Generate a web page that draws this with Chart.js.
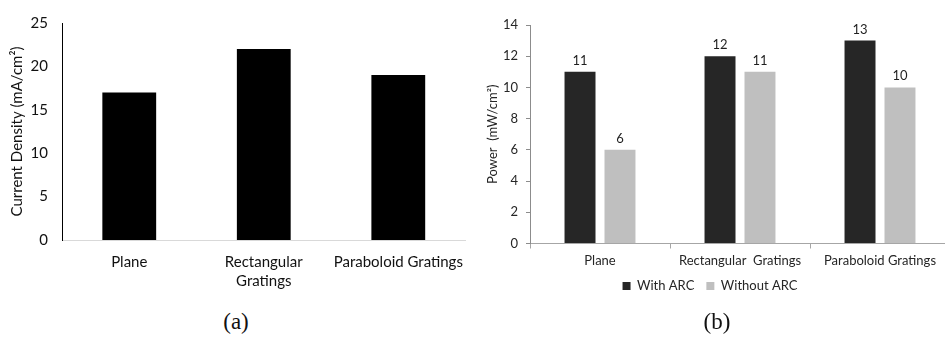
<!DOCTYPE html>
<html>
<head>
<meta charset="utf-8">
<script src="https://cdn.jsdelivr.net/npm/chart.js@4"></script>
<style>
  html, body { margin: 0; padding: 0; background: #fff; overflow: hidden; width: 945px; height: 337px; position: relative; }
  #wrapA { position: absolute; left: 0; top: 0; width: 475px; height: 300px; }
  #wrapB { position: absolute; left: 470px; top: 0; width: 511px; height: 310px; }
  .cap { position: absolute; top: 309px; font-family: "Liberation Serif", "Times New Roman", serif; font-size: 23px; color: #111; transform: translateX(-50%); white-space: nowrap; }
</style>
</head>
<body>
<div id="wrapA"><canvas id="chartA" width="475" height="300"></canvas></div>
<div id="wrapB"><canvas id="chartB" width="511" height="310"></canvas></div>
<div class="cap" style="left:236px">(a)</div>
<div class="cap" style="left:717px">(b)</div>

<script>
// (a) current density per surface type
const categoriesA = ['Plane', ['Rectangular', 'Gratings'], 'Paraboloid Gratings'];
const currentDensity = [17, 22, 19];
const yTicksA = [0, 5, 10, 15, 20, 25];

// (b) output power with / without anti-reflection coating
const categoriesB = ['Plane', 'Rectangular  Gratings', 'Paraboloid Gratings'];
const withARC = [11, 12, 13];
const withoutARC = [6, 11, 10];
const yTicksB = [0, 2, 4, 6, 8, 10, 12, 14];

const FONT = 'Lato, "Liberation Sans", sans-serif';

// writes each bar's value just above it
const valueLabels = {
  id: 'valueLabels',
  afterDatasetsDraw(chart) {
    const ctx = chart.ctx;
    ctx.save();
    ctx.font = '13px ' + FONT;
    ctx.fillStyle = '#1f1f1f';
    ctx.textAlign = 'center';
    ctx.textBaseline = 'alphabetic';
    chart.data.datasets.forEach((ds, i) => {
      chart.getDatasetMeta(i).data.forEach((bar, j) => {
        ctx.fillText(String(ds.data[j]), bar.x, bar.y - 7);
      });
    });
    ctx.restore();
  }
};

function draw() {
  new Chart(document.getElementById('chartA'), {
    type: 'bar',
    data: {
      labels: categoriesA,
      datasets: [{
        data: currentDensity,
        backgroundColor: '#000000',
        categoryPercentage: 1,
        barPercentage: 0.4
      }]
    },
    options: {
      responsive: false,
      animation: false,
      devicePixelRatio: 1,
      layout: { padding: { top: 16, right: 0.5, left: 0, bottom: 0 } },
      plugins: { legend: { display: false }, tooltip: { enabled: false } },
      scales: {
        x: {
          grid: { display: false, drawTicks: false },
          border: { color: '#d9d9d9', width: 1 },
          ticks: { color: '#111111', font: { family: FONT, size: 15, lineHeight: 1.3 }, padding: 12, maxRotation: 0, autoSkip: false },
          afterFit: s => { s.height = 60; }
        },
        y: {
          min: 0, max: 25,
          afterBuildTicks: s => { s.ticks = yTicksA.map(v => ({ value: v })); },
          grid: { display: false, drawTicks: false },
          border: { color: '#000000', width: 1 },
          ticks: { color: '#111111', font: { family: FONT, size: 15 }, padding: 14 },
          title: { display: true, text: 'Current Density (mA/cm²)', color: '#111111', font: { family: FONT, size: 15 }, padding: { top: 8, bottom: 0 } },
          afterFit: s => { s.width = 62; }
        }
      }
    }
  });

  new Chart(document.getElementById('chartB'), {
    type: 'bar',
    data: {
      labels: categoriesB,
      datasets: [
        { label: 'With ARC', data: withARC, backgroundColor: '#262626', categoryPercentage: 0.571, barPercentage: 0.775 },
        { label: 'Without ARC', data: withoutARC, backgroundColor: '#bfbfbf', categoryPercentage: 0.571, barPercentage: 0.775 }
      ]
    },
    options: {
      responsive: false,
      animation: false,
      devicePixelRatio: 1,
      layout: { padding: { top: 25, right: 31, left: 0, bottom: 7.5 } },
      plugins: {
        tooltip: { enabled: false },
        legend: {
          position: 'bottom',
          labels: { boxWidth: 8, boxHeight: 8, color: '#262626', font: { family: FONT, size: 13 }, padding: 12 }
        }
      },
      scales: {
        x: {
          grid: { display: true, drawOnChartArea: false, drawTicks: true, tickLength: 5, color: '#a6a6a6' },
          border: { color: '#a6a6a6', width: 1 },
          ticks: { color: '#262626', font: { family: FONT, size: 13 }, padding: 5, maxRotation: 0, autoSkip: false },
          afterFit: s => { s.height = 24; }
        },
        y: {
          min: 0, max: 14,
          afterBuildTicks: s => { s.ticks = yTicksB.map(v => ({ value: v })); },
          grid: { display: true, drawOnChartArea: false, drawTicks: true, tickLength: 4, color: '#8c8c8c' },
          border: { color: '#8c8c8c', width: 1 },
          ticks: { color: '#262626', font: { family: FONT, size: 13 }, padding: 8 },
          title: { display: true, text: 'Power  (mW/cm²)', color: '#262626', font: { family: FONT, size: 13 }, padding: { top: 15, bottom: 0 } },
          afterFit: s => { s.width = 60; }
        }
      }
    },
    plugins: [valueLabels]
  });
}

document.fonts.load('15px Lato').then(draw, draw);
</script>
</body>
</html>
